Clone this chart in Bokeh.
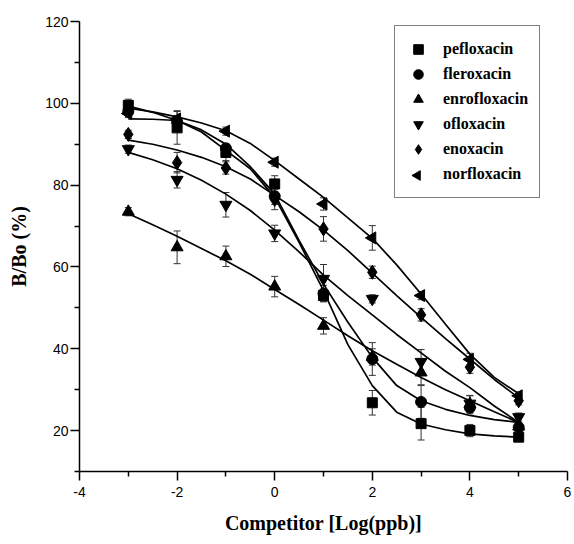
import math
from bokeh.plotting import figure
from bokeh.models import (ColumnDataSource, Whisker, TeeHead, Legend, LegendItem,
                          FixedTicker)
from bokeh.embed import file_html
from bokeh.resources import INLINE

# ---- data ----
log_conc = [-3, -2, -1, 0, 1, 2, 3, 4, 5]
series_names = ["pefloxacin", "fleroxacin", "enrofloxacin", "ofloxacin", "enoxacin", "norfloxacin"]

pefloxacin = [99.5, 94.0, 88.0, 80.3, 53.0, 26.8, 21.7, 20.0, 18.4]
fleroxacin = [98.0, 95.5, 89.0, 77.3, 53.5, 37.5, 27.0, 25.6, 20.8]
enrofloxacin = [73.5, 64.8, 62.6, 55.2, 45.6, 38.0, 34.2, 26.5, 21.0]
ofloxacin = [88.8, 81.3, 75.2, 68.2, 57.1, 52.2, 36.8, 26.6, 23.3]
enoxacin = [92.4, 85.5, 84.2, 76.5, 69.3, 58.7, 48.3, 35.5, 27.3]
norfloxacin = [97.5, 96.2, 93.2, 85.6, 75.4, 67.1, 53.0, 37.4, 28.5]

pefloxacin_err = [1.5, 4.0, 2.0, 2.0, 1.5, 3.0, 4.0, 1.5, 1.0]
fleroxacin_err = [1.0, 1.5, 1.0, 2.0, 2.0, 4.0, 4.0, 1.5, 1.0]
enrofloxacin_err = [1.0, 4.0, 2.5, 2.5, 2.0, 2.0, 3.0, 2.0, 1.0]
ofloxacin_err = [1.0, 2.0, 3.0, 2.0, 3.5, 1.0, 3.0, 2.0, 1.0]
enoxacin_err = [1.0, 2.5, 1.5, 2.5, 3.0, 1.5, 1.5, 1.5, 1.0]
norfloxacin_err = [1.0, 2.0, 1.0, 1.0, 1.5, 3.0, 1.0, 1.5, 1.0]

# fitted curves
fit_x = [-3, -2.5, -2, -1.5, -1, -0.5, 0, 0.5, 1, 1.5, 2, 2.5, 3, 3.5, 4, 4.5, 5]
pefloxacin_fit = [99.3, 97.8, 95.8, 93.0, 88.5, 84.0, 77.0, 66.0, 54.2, 41.0, 31.0, 24.5, 21.6, 20.2, 19.2, 18.7, 18.4]
fleroxacin_fit = [96.2, 96.1, 95.8, 93.5, 90.0, 84.5, 77.8, 66.5, 55.8, 46.5, 37.9, 31.0, 27.3, 25.2, 23.7, 22.7, 22.0]
enrofloxacin_fit = [73.0, 70.3, 67.5, 64.5, 61.5, 58.2, 54.5, 50.8, 47.0, 43.2, 39.5, 36.2, 33.0, 30.0, 27.3, 24.6, 22.0]
ofloxacin_fit = [88.0, 86.2, 84.0, 81.2, 77.8, 73.8, 69.0, 63.7, 58.0, 53.0, 48.3, 43.5, 39.0, 34.5, 30.5, 26.0, 22.0]
enoxacin_fit = [91.0, 90.0, 88.6, 86.8, 84.5, 81.5, 77.5, 73.5, 69.0, 64.0, 58.5, 53.0, 47.7, 42.5, 37.5, 32.5, 28.0]
norfloxacin_fit = [98.8, 97.9, 96.7, 95.2, 93.3, 90.2, 86.0, 81.5, 77.0, 72.0, 67.0, 60.5, 53.4, 46.0, 38.7, 33.0, 29.0]

x_ticks = [-4, -2, 0, 2, 4, 6]
x_minor = [-3, -1, 1, 3, 5]
y_ticks = [20, 40, 60, 80, 100, 120]
y_minor = [10, 30, 50, 70, 90, 110]

values = [pefloxacin, fleroxacin, enrofloxacin, ofloxacin, enoxacin, norfloxacin]
errors = [pefloxacin_err, fleroxacin_err, enrofloxacin_err, ofloxacin_err, enoxacin_err, norfloxacin_err]
fits = [pefloxacin_fit, fleroxacin_fit, enrofloxacin_fit, ofloxacin_fit, enoxacin_fit, norfloxacin_fit]
markers = ["square", "circle", "triangle", "inverted_triangle", "diamond", "triangle"]
sizes = [10, 11, 12, 12, 14, 12]
angles = [0, 0, 0, 0, 0, math.pi / 2]

W, H = 574, 544
FL, FR, FT, FB = 79, 567, 21, 471   # frame edges in canvas px
X0, X1, Y0, Y1 = -4, 6, 10, 120

p = figure(width=W, height=H, x_range=(X0, X1), y_range=(Y0, Y1),
           output_backend="svg", toolbar_location=None,
           min_border_left=FL, min_border_right=W - FR, min_border_top=FT,
           min_border_bottom=H - FB)
p.outline_line_color = None
p.xgrid.visible = False
p.ygrid.visible = False

for ax, ticks, minor in ((p.xaxis[0], x_ticks, x_minor), (p.yaxis[0], y_ticks, y_minor)):
    ax.ticker = FixedTicker(ticks=ticks, minor_ticks=minor)
    ax.axis_line_width = 1.5
    ax.axis_line_color = "black"
    ax.major_tick_line_width = 1.5
    ax.minor_tick_line_width = 1.5
    ax.major_tick_out = 9
    ax.major_tick_in = 0
    ax.minor_tick_out = 5
    ax.minor_tick_in = 0
    ax.major_label_text_font = "Liberation Sans"
    ax.major_label_text_font_size = "14px"
    ax.major_label_text_color = "black"
    ax.axis_label_text_font = "Liberation Serif"
    ax.axis_label_text_font_style = "bold"
    ax.axis_label_text_font_size = "20px"
    ax.axis_label_text_color = "black"

p.xaxis.major_label_overrides = {t: str(t) for t in x_ticks}
p.xaxis.axis_label = "Competitor [Log(ppb)]"
p.yaxis.axis_label = "B/Bo (%)"
p.xaxis.major_label_standoff = 6
p.yaxis.major_label_standoff = 2
p.xaxis.axis_label_standoff = 12
p.yaxis.axis_label_standoff = 12

# legend geometry (screen px)
LG_LEFT, LG_TOP, PAD, ROW, SP, GW = 394, 27, 11, 24, 1, 24
n_items = len(series_names)
LG_H = 2 * PAD + n_items * ROW + (n_items - 1) * SP

items = []
for i, (name, vals, errs, fit, mk, sz, ang) in enumerate(
        zip(series_names, values, errors, fits, markers, sizes, angles)):
    src = ColumnDataSource(dict(x=log_conc, y=vals,
                                lo=[v - e for v, e in zip(vals, errs)],
                                hi=[v + e for v, e in zip(vals, errs)]))
    p.line(fit_x, fit, line_color="black", line_width=1.7)
    w = Whisker(source=src, base="x", upper="hi", lower="lo", line_color="#333333", line_width=1,
                upper_head=TeeHead(size=7, line_color="#333333", line_width=1),
                lower_head=TeeHead(size=7, line_color="#333333", line_width=1))
    p.add_layout(w)
    r = p.scatter("x", "y", source=src, marker=mk, size=sz, angle=ang,
                  fill_color="black", line_color="black")
    if ang:
        # legend keys ignore rotation: use an empty placeholder key and draw the
        # rotated key symbol at the legend slot (converted from screen px via the ranges)
        r = p.scatter([], [], marker="square", fill_alpha=0, line_alpha=0)
        sx = LG_LEFT + PAD + GW / 2
        sy = LG_TOP + PAD + i * (ROW + SP) + ROW / 2
        lx = X0 + (sx - FL) * (X1 - X0) / (FR - FL)
        ly = Y1 - (sy - FT) * (Y1 - Y0) / (FB - FT)
        p.scatter([lx], [ly], marker=mk, size=0.4 * ROW, angle=ang,
                  fill_color="black", line_color="black")
    items.append(LegendItem(label=name, renderers=[r]))

legend = Legend(items=items, location=(LG_LEFT - FL, FB - (LG_TOP + LG_H)), orientation="vertical",
                label_text_font="Liberation Serif", label_text_font_style="bold",
                label_text_font_size="16px", label_text_color="black",
                glyph_width=GW, glyph_height=ROW, label_height=ROW, spacing=SP,
                label_standoff=13, padding=PAD, margin=0,
                border_line_color="black", border_line_width=1.5,
                background_fill_alpha=0.0)
p.add_layout(legend, "center")

open("out.html", "w").write(file_html(p, INLINE))
